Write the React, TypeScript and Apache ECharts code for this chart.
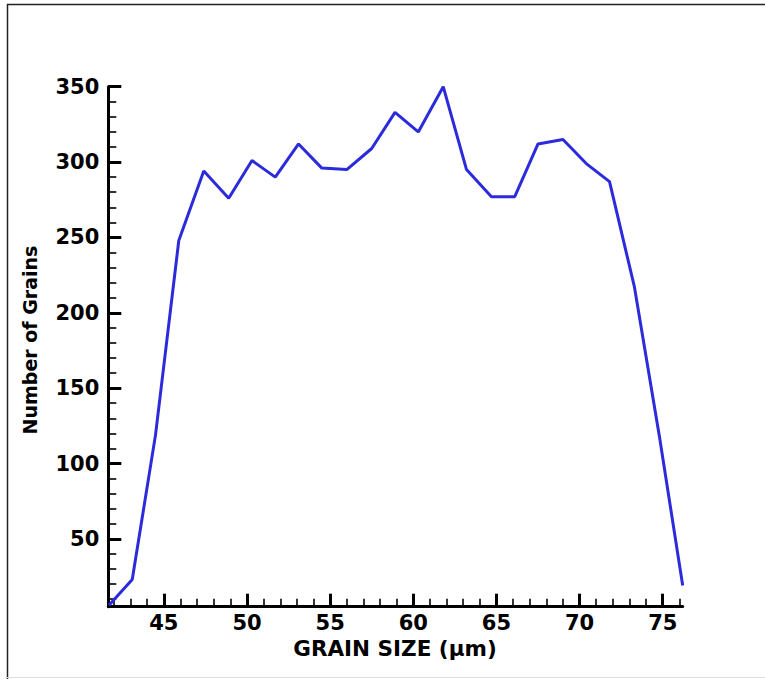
import React, { useEffect, useRef } from "react";
import * as echarts from "echarts";

// Grain size (µm) and number of grains
const grainSize = [
  41.7, 43.1, 44.5, 45.9, 47.4, 48.9, 50.3, 51.7, 53.1, 54.5, 56.0, 57.5, 58.9,
  60.3, 61.8, 63.2, 64.7, 66.1, 67.5, 69.0, 70.4, 71.8, 73.3, 74.8, 76.2,
];
const grainCount = [
  6, 23, 119, 248, 294, 276, 301, 290, 312, 296, 295, 309, 333, 320, 350, 295,
  277, 277, 312, 315, 299, 287, 217, 118, 19,
];

const xMajorTicks = [45, 50, 55, 60, 65, 70, 75];
const xMinorTicks = [
  42, 43, 44, 46, 47, 48, 49, 51, 52, 53, 54, 56, 57, 58, 59, 61, 62, 63, 64,
  66, 67, 68, 69, 71, 72, 73, 74, 76,
];
const yMajorTicks = [50, 100, 150, 200, 250, 300, 350];
const yMinorTicks = [
  10, 20, 30, 40, 60, 70, 80, 90, 110, 120, 130, 140, 160, 170, 180, 190, 210,
  220, 230, 240, 260, 270, 280, 290, 310, 320, 330, 340,
];

const X_MIN = 41.66;
const X_MAX = 76.2;
const Y_MIN = 5;
const Y_MAX = 350;

const FONT = "DejaVu Sans";

export default function App() {
  const ref = useRef<HTMLDivElement>(null);

  useEffect(() => {
    if (!ref.current) return;
    const chart = echarts.init(ref.current, null, { renderer: "svg" });

    const labelStyle = {
      fontFamily: FONT,
      fontWeight: "bold" as const,
      fontSize: 21,
      color: "#000",
    };

    chart.setOption({
      animation: false,
      backgroundColor: "#fff",
      grid: {
        left: 108.3,
        top: 86.7,
        right: 82.3,
        bottom: 72.3,
        containLabel: false,
      },
      xAxis: [
        {
          type: "value",
          min: X_MIN,
          max: X_MAX,
          position: "bottom",
          axisLine: { show: true, onZero: false, lineStyle: { color: "#000", width: 3 } },
          axisTick: {
            show: true,
            inside: true,
            length: 13,
            customValues: xMajorTicks,
            lineStyle: { color: "#000", width: 3 },
          },
          axisLabel: { ...labelStyle, customValues: xMajorTicks, margin: 6 },
          splitLine: { show: false },
        },
        {
          type: "value",
          min: X_MIN,
          max: X_MAX,
          position: "bottom",
          axisLine: { show: false, onZero: false },
          axisTick: {
            show: true,
            inside: true,
            length: 8,
            customValues: xMinorTicks,
            lineStyle: { color: "#000", width: 1.6 },
          },
          axisLabel: { show: false },
          splitLine: { show: false },
        },
      ],
      yAxis: [
        {
          type: "value",
          min: Y_MIN,
          max: Y_MAX,
          position: "left",
          axisLine: { show: true, onZero: false, lineStyle: { color: "#000", width: 3 } },
          axisTick: {
            show: true,
            inside: true,
            length: 13,
            customValues: yMajorTicks,
            lineStyle: { color: "#000", width: 3 },
          },
          axisLabel: { ...labelStyle, customValues: yMajorTicks, margin: 9 },
          splitLine: { show: false },
        },
        {
          type: "value",
          min: Y_MIN,
          max: Y_MAX,
          position: "left",
          axisLine: { show: false, onZero: false },
          axisTick: {
            show: true,
            inside: true,
            length: 8,
            customValues: yMinorTicks,
            lineStyle: { color: "#000", width: 1.6 },
          },
          axisLabel: { show: false },
          splitLine: { show: false },
        },
      ],
      series: [
        {
          type: "line",
          xAxisIndex: 0,
          yAxisIndex: 0,
          data: grainSize.map((x, i) => [x, grainCount[i]]),
          symbol: "none",
          showSymbol: false,
          clip: false,
          lineStyle: { color: "#2b2bdc", width: 3 },
        },
      ],
      graphic: [
        {
          type: "line",
          shape: { x1: 7, y1: 4.5, x2: 765, y2: 4.5 },
          style: { stroke: "#222", lineWidth: 1.5 },
        },
        {
          type: "line",
          shape: { x1: 7.5, y1: 4, x2: 7.5, y2: 679 },
          style: { stroke: "#222", lineWidth: 1.5 },
        },
        {
          type: "line",
          shape: { x1: 7, y1: 677.5, x2: 765, y2: 677.5 },
          style: { stroke: "#dddddd", lineWidth: 1 },
        },
        {
          type: "text",
          x: 29.5,
          y: 340,
          rotation: Math.PI / 2,
          style: {
            text: "Number of Grains",
            fontFamily: FONT,
            fontWeight: "bold",
            fontSize: 19,
            fill: "#000",
            align: "center",
            verticalAlign: "middle",
            textAlign: "center",
            textVerticalAlign: "middle",
          },
        },
        {
          type: "text",
          x: 395,
          y: 648,
          style: {
            text: "GRAIN SIZE (μm)",
            fontFamily: FONT,
            fontWeight: "bold",
            fontSize: 21.5,
            fill: "#000",
            align: "center",
            verticalAlign: "middle",
            textAlign: "center",
            textVerticalAlign: "middle",
          },
        },
      ],
    });

    return () => chart.dispose();
  }, []);

  return (
    <div
      ref={ref}
      style={{ position: "absolute", left: 0, top: 0, width: 765, height: 679 }}
    />
  );
}
